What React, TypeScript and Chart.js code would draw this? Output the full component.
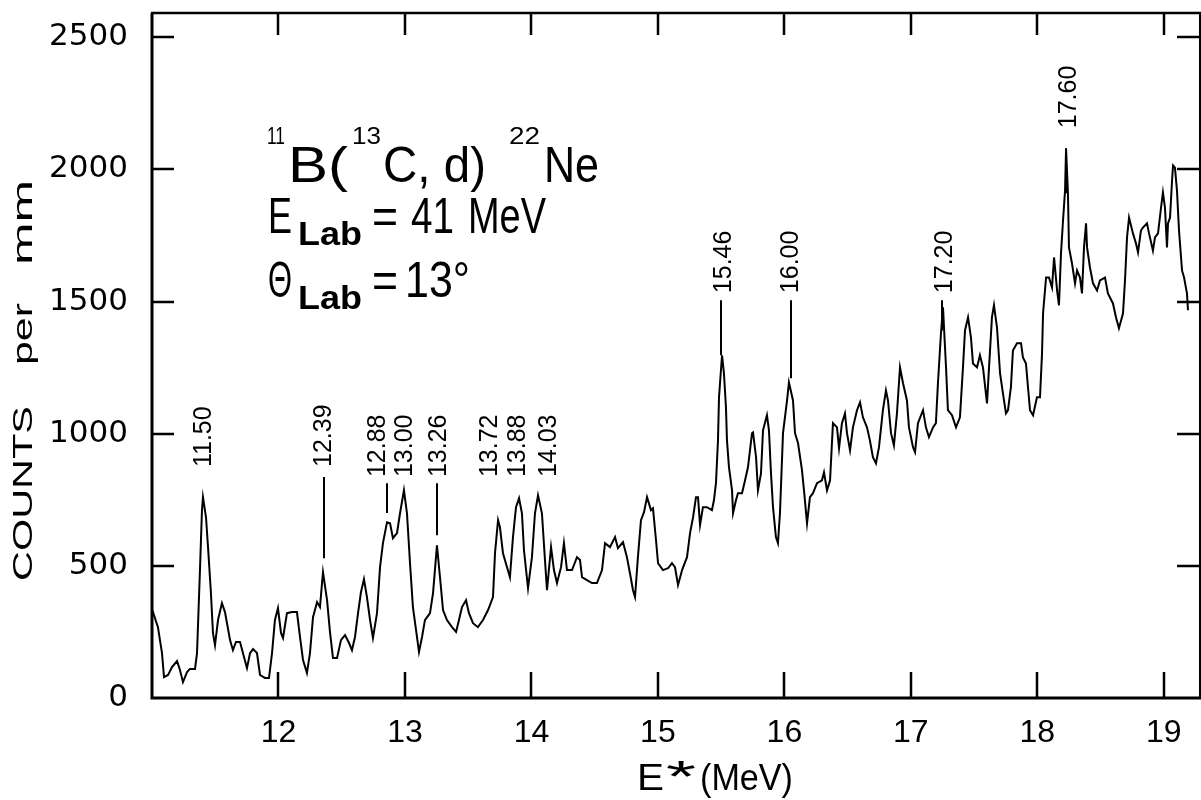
import React, { useEffect, useRef } from 'react';
import { Chart, registerables } from 'chart.js';

Chart.register(...registerables);

// Excitation energy E* (MeV) of each sampled point of the spectrum
const energyMeV = [
  11.000, 11.008, 11.047, 11.079, 11.095, 11.127, 11.158, 11.198, 11.221, 11.245, 11.277, 11.300, 11.340, 11.356,
  11.380, 11.395, 11.403, 11.427, 11.443, 11.466, 11.482, 11.498, 11.522, 11.553, 11.577, 11.593, 11.617, 11.640,
  11.664, 11.696, 11.719, 11.751, 11.775, 11.799, 11.830, 11.854, 11.893, 11.925, 11.949, 11.972, 11.996, 12.020,
  12.036, 12.067, 12.107, 12.146, 12.170, 12.194, 12.225, 12.249, 12.273, 12.305, 12.328, 12.352, 12.384, 12.408,
  12.431, 12.463, 12.494, 12.526, 12.558, 12.581, 12.605, 12.629, 12.652, 12.676, 12.700, 12.724, 12.747, 12.779,
  12.803, 12.826, 12.858, 12.882, 12.905, 12.937, 12.961, 12.992, 13.016, 13.040, 13.063, 13.095, 13.111, 13.135,
  13.158, 13.198, 13.222, 13.253, 13.277, 13.301, 13.332, 13.372, 13.404, 13.427, 13.451, 13.483, 13.506, 13.538,
  13.577, 13.617, 13.657, 13.696, 13.712, 13.736, 13.751, 13.775, 13.807, 13.830, 13.854, 13.878, 13.902, 13.925,
  13.941, 13.973, 14.004, 14.028, 14.052, 14.083, 14.107, 14.123, 14.155, 14.178, 14.202, 14.234, 14.257, 14.281,
  14.321, 14.360, 14.384, 14.400, 14.439, 14.479, 14.518, 14.558, 14.582, 14.621, 14.661, 14.684, 14.724, 14.755,
  14.779, 14.803, 14.819, 14.842, 14.866, 14.890, 14.914, 14.945, 14.961, 14.985, 15.001, 15.040, 15.080, 15.111,
  15.135, 15.159, 15.191, 15.230, 15.254, 15.278, 15.301, 15.317, 15.333, 15.356, 15.388, 15.427, 15.443, 15.459,
  15.475, 15.483, 15.507, 15.522, 15.538, 15.546, 15.562, 15.586, 15.594, 15.617, 15.633, 15.665, 15.689, 15.712,
  15.744, 15.752, 15.776, 15.791, 15.815, 15.831, 15.862, 15.878, 15.894, 15.910, 15.933, 15.949, 15.965, 15.989,
  16.021, 16.036, 16.068, 16.084, 16.108, 16.139, 16.155, 16.179, 16.202, 16.226, 16.258, 16.297, 16.313, 16.337,
  16.361, 16.384, 16.416, 16.432, 16.455, 16.479, 16.495, 16.519, 16.542, 16.574, 16.598, 16.621, 16.653, 16.676,
  16.700, 16.724, 16.748, 16.779, 16.803, 16.819, 16.843, 16.866, 16.890, 16.914, 16.938, 16.969, 16.985, 17.017,
  17.033, 17.056, 17.096, 17.119, 17.143, 17.175, 17.198, 17.214, 17.238, 17.254, 17.262, 17.278, 17.293, 17.325,
  17.357, 17.388, 17.412, 17.428, 17.452, 17.475, 17.491, 17.523, 17.546, 17.570, 17.602, 17.618, 17.641, 17.657,
  17.681, 17.705, 17.728, 17.752, 17.768, 17.791, 17.807, 17.839, 17.871, 17.886, 17.910, 17.926, 17.942, 17.966,
  17.997, 18.021, 18.037, 18.045, 18.069, 18.092, 18.116, 18.132, 18.156, 18.171, 18.187, 18.203, 18.219, 18.227,
  18.242, 18.250, 18.274, 18.298, 18.314, 18.337, 18.353, 18.369, 18.385, 18.393, 18.416, 18.440, 18.472, 18.495,
  18.535, 18.558, 18.598, 18.622, 18.645, 18.677, 18.693, 18.709, 18.725, 18.756, 18.780, 18.796, 18.819, 18.835,
  18.867, 18.883, 18.914, 18.930, 18.954, 18.978, 18.993, 19.009, 19.025, 19.033, 19.049, 19.065, 19.073, 19.088,
  19.104, 19.120, 19.144, 19.160, 19.183, 19.191,
];

// Counts per mm at each sampled energy
const countsPerMm = [
  321, 325, 268, 170, 79, 87, 117, 140, 106, 60, 98, 110, 110, 170,
  495, 710, 760, 684, 571, 397, 246, 200, 295, 359, 325, 283, 219, 181,
  212, 212, 170, 113, 170, 185, 170, 87, 76, 76, 170, 295, 340, 246,
  227, 321, 325, 325, 231, 144, 95, 170, 306, 363, 344, 476, 370, 246,
  151, 151, 219, 238, 208, 181, 231, 321, 400, 450, 380, 295, 227, 321,
  495, 586, 665, 661, 605, 624, 699, 786, 699, 510, 344, 231, 174, 231,
  295, 321, 397, 578, 457, 333, 295, 268, 250, 295, 344, 370, 321, 283,
  268, 295, 333, 382, 548, 673, 646, 548, 495, 457, 609, 722, 756, 699,
  559, 416, 533, 699, 767, 699, 522, 408, 571, 484, 435, 495, 586, 484,
  484, 533, 522, 457, 446, 435, 435, 484, 586, 571, 609, 567, 590, 533,
  472, 408, 382, 533, 673, 703, 760, 711, 718, 597, 510, 484, 491, 510,
  495, 427, 484, 533, 624, 684, 760, 760, 654, 722, 722, 711, 748, 813,
  975, 1138, 1297, 1229, 1100, 975, 873, 786, 699, 748, 775, 775, 824, 873,
  1002, 1005, 911, 786, 850, 1013, 1070, 1013, 850, 722, 609, 586, 699, 1002,
  1126, 1194, 1126, 1002, 964, 862, 786, 661, 760, 775, 813, 824, 854, 786,
  824, 1040, 1024, 945, 1040, 1077, 1002, 937, 1024, 1089, 1119, 1062, 1024, 975,
  911, 888, 949, 1089, 1164, 1126, 1002, 956, 1077, 1251, 1191, 1126, 1024, 949,
  930, 1040, 1089, 1024, 987, 1024, 1040, 1191, 1380, 1478, 1402, 1251, 1089, 1070,
  1024, 1062, 1251, 1391, 1440, 1365, 1266, 1251, 1297, 1251, 1115, 1251, 1440, 1486,
  1402, 1229, 1153, 1077, 1089, 1176, 1315, 1342, 1342, 1289, 1266, 1176, 1089, 1070,
  1138, 1138, 1304, 1455, 1591, 1591, 1553, 1667, 1542, 1486, 1682, 1807, 1920, 2079,
  1909, 1705, 1644, 1569, 1618, 1591, 1531, 1705, 1796, 1705, 1629, 1569, 1542, 1580,
  1591, 1531, 1493, 1440, 1399, 1455, 1580, 1743, 1818, 1758, 1720, 1686, 1769, 1780,
  1796, 1758, 1693, 1743, 1758, 1856, 1913, 1856, 1705, 1796, 1818, 1958, 2015, 2007,
  1920, 1769, 1618, 1591, 1531, 1467,
];

const xTickValues = [12, 13, 14, 15, 16, 17, 18, 19];
const yTickValues = [0, 500, 1000, 1500, 2000, 2500];
const xRange = [11.0, 19.286];
const yRange = [0, 2592];

// Level annotations: label text, energy where the label sits, counts at the text start
const peakLabels = ['11.50', '12.39', '12.88', '13.00', '13.26', '13.72', '13.88', '14.03', '15.46', '16.00', '17.20', '17.60'];
const peakLabelEnergy = [11.41, 12.36, 12.787, 13.0, 13.27, 13.672, 13.893, 14.138, 15.526, 16.052, 17.27, 18.25];
const peakLabelBase = [874, 874, 836, 836, 836, 836, 836, 836, 1532, 1532, 1532, 2156];
// Marker lines under some labels: energy, top counts, bottom counts (null = no line)
const peakLineEnergy = [null, 12.36, 12.858, null, 13.253, null, null, null, 15.502, 16.052, 17.246, 18.23];
const peakLineTop = [null, 836, 813, null, 813, null, null, null, 1505, 1505, 1505, 2080];
const peakLineBottom = [null, 529, 700, null, 616, null, null, null, 1297, 1210, 1391, 1910];

const SANS = '"Liberation Sans", Arial, Helvetica, sans-serif';

function fitText(ctx: CanvasRenderingContext2D, text: string, x0: number, x1: number, baseline: number, font: string) {
  ctx.font = font;
  const w = ctx.measureText(text).width;
  const s = (x1 - x0) / w;
  ctx.save();
  ctx.translate(x0, baseline);
  ctx.scale(s, 1);
  ctx.textAlign = 'left';
  ctx.textBaseline = 'alphabetic';
  ctx.fillText(text, 0, 0);
  ctx.restore();
}

function fitTextUp(ctx: CanvasRenderingContext2D, text: string, xBase: number, yBottom: number, yTop: number, font: string) {
  ctx.font = font;
  const w = ctx.measureText(text).width;
  const s = (yBottom - yTop) / w;
  ctx.save();
  ctx.translate(xBase, yBottom);
  ctx.rotate(-Math.PI / 2);
  ctx.scale(s, 1);
  ctx.textAlign = 'left';
  ctx.textBaseline = 'alphabetic';
  ctx.fillText(text, 0, 0);
  ctx.restore();
}

const decorPlugin = {
  id: 'decor',
  afterDraw(chart: any) {
    const { ctx, chartArea: a, scales } = chart;
    const xs = scales.x;
    const ys = scales.y;
    ctx.save();
    ctx.strokeStyle = '#000';
    ctx.fillStyle = '#000';
    ctx.lineCap = 'butt';

    // frame
    ctx.lineWidth = 3;
    ctx.beginPath();
    ctx.moveTo(a.left, a.top);
    ctx.lineTo(a.left, a.bottom);
    ctx.lineTo(a.right + 1, a.bottom);
    ctx.stroke();
    ctx.lineWidth = 2.5;
    ctx.beginPath();
    ctx.moveTo(a.left - 1, a.top);
    ctx.lineTo(a.right + 1, a.top);
    ctx.stroke();
    ctx.lineWidth = 2;
    ctx.beginPath();
    ctx.moveTo(a.right, a.top);
    ctx.lineTo(a.right, a.bottom);
    ctx.stroke();

    // inward ticks
    ctx.lineWidth = 2.5;
    xTickValues.forEach((v) => {
      const px = Math.round(xs.getPixelForValue(v));
      ctx.beginPath();
      ctx.moveTo(px, a.bottom);
      ctx.lineTo(px, a.bottom - 26);
      ctx.moveTo(px, a.top);
      ctx.lineTo(px, a.top + 22);
      ctx.stroke();
    });
    yTickValues.forEach((v) => {
      if (v === 0) return;
      const py = Math.round(ys.getPixelForValue(v));
      ctx.beginPath();
      ctx.moveTo(a.left, py);
      ctx.lineTo(a.left + 22, py);
      ctx.moveTo(a.right, py);
      ctx.lineTo(a.right - 23, py);
      ctx.stroke();
    });

    // level labels and marker lines
    ctx.lineWidth = 2;
    peakLabels.forEach((lab, i) => {
      const cx = xs.getPixelForValue(peakLabelEnergy[i]);
      const by = ys.getPixelForValue(peakLabelBase[i]);
      ctx.save();
      ctx.translate(cx, by);
      ctx.rotate(-Math.PI / 2);
      ctx.font = `25px ${SANS}`;
      ctx.textAlign = 'left';
      ctx.textBaseline = 'middle';
      ctx.fillText(lab, 0, 0);
      ctx.restore();
      const le = peakLineEnergy[i];
      if (le !== null) {
        const lx = Math.round(xs.getPixelForValue(le as number));
        ctx.beginPath();
        ctx.moveTo(lx, ys.getPixelForValue(peakLineTop[i] as number));
        ctx.lineTo(lx, ys.getPixelForValue(peakLineBottom[i] as number));
        ctx.stroke();
      }
    });

    // reaction info block
    const big = `50px ${SANS}`;
    const sup = `24px ${SANS}`;
    const sub = `bold 34px ${SANS}`;
    fitText(ctx, '11', 267, 285, 144, sup);
    fitText(ctx, 'B(', 288, 348, 182, big);
    fitText(ctx, '13', 352, 381, 144, sup);
    fitText(ctx, 'C, d)', 383, 486, 182, big);
    fitText(ctx, '22', 509, 540, 144, sup);
    fitText(ctx, 'Ne', 544, 599, 182, big);

    fitText(ctx, 'E', 268, 292, 233, big);
    fitText(ctx, 'Lab', 298, 362, 245, sub);
    fitText(ctx, '=', 372, 398, 233, big);
    fitText(ctx, '41', 411, 454, 233, big);
    fitText(ctx, 'MeV', 468, 546, 233, big);

    fitText(ctx, 'Θ', 268, 292, 297, big);
    fitText(ctx, 'Lab', 298, 362, 309, sub);
    fitText(ctx, '=', 372, 398, 297, big);
    fitText(ctx, '13°', 405, 470, 297, big);

    // axis titles
    fitText(ctx, 'E', 637, 664, 790, `36px ${SANS}`);
    fitText(ctx, '*', 666, 696, 792, `44px ${SANS}`);
    fitText(ctx, '(MeV)', 700, 793, 790, `36px ${SANS}`);

    fitTextUp(ctx, 'COUNTS', 32, 581, 406, `28px ${SANS}`);
    fitTextUp(ctx, 'per', 32, 365, 303, `28px ${SANS}`);
    fitTextUp(ctx, 'mm', 32, 265, 180, `28px ${SANS}`);

    ctx.restore();
  },
};

export default function App() {
  const canvasRef = useRef<HTMLCanvasElement>(null);

  useEffect(() => {
    const canvas = canvasRef.current;
    if (!canvas) return;
    const points = energyMeV.map((e, i) => ({ x: e, y: countsPerMm[i] }));
    const chart = new Chart(canvas, {
      type: 'line',
      data: {
        datasets: [
          {
            label: '11B(13C,d)22Ne',
            data: points,
            borderColor: '#000',
            borderWidth: 2,
            pointRadius: 0,
            tension: 0,
            fill: false,
          },
        ],
      },
      options: {
        responsive: false,
        animation: false,
        devicePixelRatio: 1,
        layout: { padding: { top: 13, right: 1, left: 0, bottom: 0 } },
        plugins: { legend: { display: false }, tooltip: { enabled: false } },
        scales: {
          x: {
            type: 'linear',
            min: xRange[0],
            max: xRange[1],
            grid: { display: false, drawTicks: false },
            border: { display: false },
            afterBuildTicks: (s: any) => {
              s.ticks = xTickValues.map((v) => ({ value: v }));
            },
            afterFit: (s: any) => {
              s.height = 102;
              s.paddingLeft = 0;
              s.paddingRight = 0;
            },
            ticks: {
              color: '#000',
              padding: 16,
              maxRotation: 0,
              autoSkip: false,
              font: { family: SANS, size: 32 },
              callback: (v: any) => String(v),
            },
          },
          y: {
            type: 'linear',
            min: yRange[0],
            max: yRange[1],
            grid: { display: false, drawTicks: false },
            border: { display: false },
            afterBuildTicks: (s: any) => {
              s.ticks = yTickValues.map((v) => ({ value: v }));
            },
            afterFit: (s: any) => {
              s.width = 152;
              s.paddingTop = 0;
              s.paddingBottom = 0;
            },
            ticks: {
              color: '#000',
              padding: 24,
              autoSkip: false,
              font: { family: '"DejaVu Sans", sans-serif', size: 31 },
              callback: (v: any) => String(v),
            },
          },
        },
      },
      plugins: [decorPlugin],
    });
    return () => chart.destroy();
  }, []);

  return (
    <div style={{ position: 'fixed', left: 0, top: 0, width: 1201, height: 800, background: '#fff' }}>
      <canvas ref={canvasRef} width={1201} height={800} style={{ width: 1201, height: 800, display: 'block' }} />
    </div>
  );
}
